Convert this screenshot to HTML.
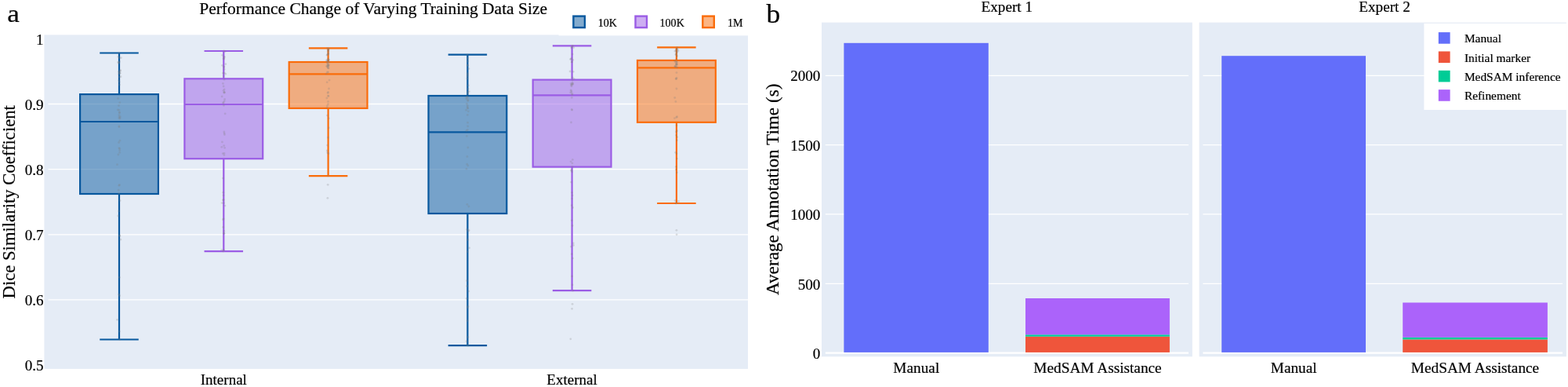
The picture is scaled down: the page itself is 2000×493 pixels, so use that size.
<!DOCTYPE html>
<html lang="en"><head><meta charset="utf-8"><title>Figure</title>
<style>
html,body{margin:0;padding:0;background:#fff;}
body{width:2000px;height:493px;overflow:hidden;}
svg{display:block;}
text{font-family:"Liberation Serif", "Times New Roman", serif;fill:#000;stroke:#000;stroke-width:0.2px;}
</style></head><body>
<svg width="2000" height="493" viewBox="0 0 2000 493">
<rect x="0" y="0" width="2000" height="493" fill="#fff"/>
<rect x="56.4" y="44.4" width="897.60" height="425.50" fill="#E5ECF6"/>
<line x1="61.5" x2="954.0" y1="381.95" y2="381.95" stroke="#fff" stroke-width="1.3"/>
<line x1="61.5" x2="954.0" y1="298.80" y2="298.80" stroke="#fff" stroke-width="1.3"/>
<line x1="61.5" x2="954.0" y1="215.65" y2="215.65" stroke="#fff" stroke-width="1.3"/>
<line x1="61.5" x2="954.0" y1="132.50" y2="132.50" stroke="#fff" stroke-width="1.3"/>
<text transform="translate(55.6,472.1) scale(1.0000,1)" font-size="19.10" text-anchor="end">0.5</text>
<text transform="translate(55.6,388.9) scale(1.0000,1)" font-size="19.10" text-anchor="end">0.6</text>
<text transform="translate(55.6,305.5) scale(1.0000,1)" font-size="19.10" text-anchor="end">0.7</text>
<text transform="translate(55.6,222.6) scale(1.0000,1)" font-size="19.10" text-anchor="end">0.8</text>
<text transform="translate(55.6,139.55) scale(1.0000,1)" font-size="19.10" text-anchor="end">0.9</text>
<text transform="translate(55.6,56.5) scale(1.0000,1)" font-size="19.10" text-anchor="end">1</text>
<g stroke="#08589e" stroke-width="2.2" fill="none">
<line x1="152.0" x2="152.0" y1="67.5" y2="120.1"/><line x1="152.0" x2="152.0" y1="247.0" y2="432.5"/>
<line x1="127.25" x2="176.75" y1="67.5" y2="67.5"/><line x1="127.25" x2="176.75" y1="432.5" y2="432.5"/>
<rect x="102.1" y="120.1" width="99.8" height="126.9" fill="#08589e" fill-opacity="0.5"/>
<line x1="102.1" x2="201.9" y1="155.0" y2="155.0"/>
</g>
<g fill="#7f7f7f" fill-opacity="0.24" stroke="none">
<circle cx="150.6" cy="125.4" r="1.4"/>
<circle cx="151.9" cy="161.7" r="1.4"/>
<circle cx="151.9" cy="188.6" r="1.4"/>
<circle cx="151.7" cy="94.2" r="1.4"/>
<circle cx="153.4" cy="90.3" r="1.4"/>
<circle cx="151.0" cy="72.3" r="1.4"/>
<circle cx="153.3" cy="149.0" r="1.4"/>
<circle cx="150.7" cy="79.2" r="1.4"/>
<circle cx="151.2" cy="242.2" r="1.4"/>
<circle cx="152.6" cy="191.5" r="1.4"/>
<circle cx="153.1" cy="255.6" r="1.4"/>
<circle cx="152.9" cy="300.7" r="1.4"/>
<circle cx="152.3" cy="73.7" r="1.4"/>
<circle cx="152.1" cy="148.6" r="1.4"/>
<circle cx="152.2" cy="98.1" r="1.4"/>
<circle cx="152.6" cy="189.3" r="1.4"/>
<circle cx="151.8" cy="160.8" r="1.4"/>
<circle cx="152.3" cy="78.3" r="1.4"/>
<circle cx="152.6" cy="194.3" r="1.4"/>
<circle cx="152.0" cy="140.5" r="1.4"/>
<circle cx="152.8" cy="130.6" r="1.4"/>
<circle cx="152.6" cy="376.7" r="1.4"/>
<circle cx="154.0" cy="97.7" r="1.4"/>
<circle cx="152.3" cy="235.5" r="1.4"/>
<circle cx="151.6" cy="181.5" r="1.4"/>
<circle cx="151.6" cy="268.9" r="1.4"/>
<circle cx="152.0" cy="146.5" r="1.4"/>
<circle cx="152.9" cy="93.2" r="1.4"/>
<circle cx="151.7" cy="102.6" r="1.4"/>
<circle cx="152.4" cy="353.3" r="1.4"/>
<circle cx="153.8" cy="305.2" r="1.4"/>
<circle cx="149.5" cy="209.7" r="1.4"/>
<circle cx="150.9" cy="197.0" r="1.4"/>
<circle cx="152.2" cy="422.2" r="1.4"/>
<circle cx="152.4" cy="143.3" r="1.4"/>
<circle cx="152.2" cy="104.4" r="1.4"/>
<circle cx="151.6" cy="246.4" r="1.4"/>
<circle cx="152.7" cy="299.8" r="1.4"/>
<circle cx="152.3" cy="143.4" r="1.4"/>
<circle cx="151.5" cy="91.8" r="1.4"/>
<circle cx="154.4" cy="73.7" r="1.4"/>
<circle cx="152.4" cy="107.9" r="1.4"/>
<circle cx="151.4" cy="80.5" r="1.4"/>
<circle cx="151.9" cy="150.5" r="1.4"/>
<circle cx="151.8" cy="91.1" r="1.4"/>
<circle cx="151.9" cy="236.3" r="1.4"/>
<circle cx="149.5" cy="407.3" r="1.4"/>
<circle cx="151.5" cy="134.6" r="1.4"/>
<circle cx="153.0" cy="151.0" r="1.4"/>
<circle cx="150.8" cy="275.0" r="1.4"/>
<circle cx="151.9" cy="79.7" r="1.4"/>
<circle cx="153.0" cy="93.0" r="1.4"/>
<circle cx="152.9" cy="179.2" r="1.4"/>
<circle cx="153.5" cy="89.5" r="1.4"/>
<circle cx="150.3" cy="139.9" r="1.4"/>
<circle cx="151.6" cy="375.1" r="1.4"/>
<circle cx="151.7" cy="67.5" r="1.4"/>
<circle cx="152.6" cy="432.5" r="1.4"/>
</g>
<g stroke="#9b5de5" stroke-width="2.2" fill="none">
<line x1="285.3" x2="285.3" y1="65.0" y2="100.3"/><line x1="285.3" x2="285.3" y1="202.2" y2="320.1"/>
<line x1="260.55" x2="310.05" y1="65.0" y2="65.0"/><line x1="260.55" x2="310.05" y1="320.1" y2="320.1"/>
<rect x="235.4" y="100.3" width="99.8" height="101.89999999999999" fill="#9b5de5" fill-opacity="0.5"/>
<line x1="235.4" x2="335.2" y1="133.0" y2="133.0"/>
</g>
<g fill="#7f7f7f" fill-opacity="0.24" stroke="none">
<circle cx="282.9" cy="318.3" r="1.4"/>
<circle cx="285.6" cy="297.2" r="1.4"/>
<circle cx="284.7" cy="289.4" r="1.4"/>
<circle cx="283.4" cy="83.3" r="1.4"/>
<circle cx="286.0" cy="101.2" r="1.4"/>
<circle cx="285.0" cy="74.9" r="1.4"/>
<circle cx="283.1" cy="122.9" r="1.4"/>
<circle cx="284.4" cy="254.9" r="1.4"/>
<circle cx="285.6" cy="318.7" r="1.4"/>
<circle cx="284.8" cy="245.2" r="1.4"/>
<circle cx="286.1" cy="73.0" r="1.4"/>
<circle cx="286.0" cy="72.2" r="1.4"/>
<circle cx="286.0" cy="195.3" r="1.4"/>
<circle cx="285.6" cy="258.7" r="1.4"/>
<circle cx="286.6" cy="188.3" r="1.4"/>
<circle cx="286.0" cy="88.3" r="1.4"/>
<circle cx="285.8" cy="294.4" r="1.4"/>
<circle cx="283.2" cy="258.6" r="1.4"/>
<circle cx="286.2" cy="92.9" r="1.4"/>
<circle cx="286.6" cy="126.5" r="1.4"/>
<circle cx="285.0" cy="248.9" r="1.4"/>
<circle cx="284.8" cy="131.3" r="1.4"/>
<circle cx="287.2" cy="144.8" r="1.4"/>
<circle cx="283.5" cy="70.3" r="1.4"/>
<circle cx="285.8" cy="297.3" r="1.4"/>
<circle cx="287.7" cy="94.2" r="1.4"/>
<circle cx="284.4" cy="279.7" r="1.4"/>
<circle cx="286.0" cy="118.2" r="1.4"/>
<circle cx="287.2" cy="65.5" r="1.4"/>
<circle cx="285.2" cy="278.8" r="1.4"/>
<circle cx="285.9" cy="197.6" r="1.4"/>
<circle cx="286.2" cy="128.8" r="1.4"/>
<circle cx="284.4" cy="227.1" r="1.4"/>
<circle cx="285.2" cy="109.9" r="1.4"/>
<circle cx="285.6" cy="85.7" r="1.4"/>
<circle cx="286.1" cy="114.0" r="1.4"/>
<circle cx="285.3" cy="97.1" r="1.4"/>
<circle cx="285.1" cy="115.3" r="1.4"/>
<circle cx="284.3" cy="195.6" r="1.4"/>
<circle cx="284.9" cy="130.3" r="1.4"/>
<circle cx="286.2" cy="169.8" r="1.4"/>
<circle cx="285.4" cy="134.3" r="1.4"/>
<circle cx="284.4" cy="106.3" r="1.4"/>
<circle cx="284.5" cy="93.2" r="1.4"/>
<circle cx="287.8" cy="81.7" r="1.4"/>
<circle cx="286.4" cy="171.5" r="1.4"/>
<circle cx="285.9" cy="117.3" r="1.4"/>
<circle cx="282.8" cy="187.3" r="1.4"/>
<circle cx="285.9" cy="84.8" r="1.4"/>
<circle cx="285.8" cy="74.8" r="1.4"/>
<circle cx="287.0" cy="262.1" r="1.4"/>
<circle cx="285.7" cy="185.6" r="1.4"/>
<circle cx="285.2" cy="254.5" r="1.4"/>
<circle cx="285.8" cy="168.0" r="1.4"/>
<circle cx="283.4" cy="180.9" r="1.4"/>
<circle cx="286.3" cy="117.7" r="1.4"/>
<circle cx="285.6" cy="65.0" r="1.4"/>
<circle cx="284.6" cy="320.1" r="1.4"/>
</g>
<g stroke="#fa6c0a" stroke-width="2.2" fill="none">
<line x1="418.6" x2="418.6" y1="61.4" y2="79.0"/><line x1="418.6" x2="418.6" y1="137.9" y2="224.1"/>
<line x1="393.85" x2="443.35" y1="61.4" y2="61.4"/><line x1="393.85" x2="443.35" y1="224.1" y2="224.1"/>
<rect x="368.70000000000005" y="79.0" width="99.8" height="58.900000000000006" fill="#fa6c0a" fill-opacity="0.5"/>
<line x1="368.70000000000005" x2="468.5" y1="94.4" y2="94.4"/>
</g>
<g fill="#7f7f7f" fill-opacity="0.24" stroke="none">
<circle cx="418.4" cy="77.6" r="1.4"/>
<circle cx="416.8" cy="124.9" r="1.4"/>
<circle cx="419.4" cy="62.4" r="1.4"/>
<circle cx="419.5" cy="112.9" r="1.4"/>
<circle cx="416.7" cy="77.9" r="1.4"/>
<circle cx="418.5" cy="129.3" r="1.4"/>
<circle cx="419.2" cy="76.5" r="1.4"/>
<circle cx="416.8" cy="76.6" r="1.4"/>
<circle cx="416.8" cy="84.2" r="1.4"/>
<circle cx="417.5" cy="134.7" r="1.4"/>
<circle cx="418.0" cy="81.0" r="1.4"/>
<circle cx="417.2" cy="104.8" r="1.4"/>
<circle cx="418.6" cy="64.2" r="1.4"/>
<circle cx="418.8" cy="65.0" r="1.4"/>
<circle cx="419.2" cy="83.7" r="1.4"/>
<circle cx="419.3" cy="162.9" r="1.4"/>
<circle cx="420.1" cy="102.1" r="1.4"/>
<circle cx="419.8" cy="79.3" r="1.4"/>
<circle cx="417.3" cy="79.2" r="1.4"/>
<circle cx="418.1" cy="118.4" r="1.4"/>
<circle cx="417.5" cy="69.8" r="1.4"/>
<circle cx="417.5" cy="147.1" r="1.4"/>
<circle cx="418.5" cy="175.2" r="1.4"/>
<circle cx="418.6" cy="91.9" r="1.4"/>
<circle cx="419.1" cy="86.8" r="1.4"/>
<circle cx="417.0" cy="137.1" r="1.4"/>
<circle cx="417.4" cy="91.8" r="1.4"/>
<circle cx="418.6" cy="122.1" r="1.4"/>
<circle cx="418.4" cy="84.4" r="1.4"/>
<circle cx="418.3" cy="63.7" r="1.4"/>
<circle cx="418.5" cy="74.4" r="1.4"/>
<circle cx="417.8" cy="81.5" r="1.4"/>
<circle cx="419.3" cy="76.2" r="1.4"/>
<circle cx="419.0" cy="195.7" r="1.4"/>
<circle cx="418.5" cy="82.7" r="1.4"/>
<circle cx="417.9" cy="86.1" r="1.4"/>
<circle cx="418.4" cy="69.2" r="1.4"/>
<circle cx="416.1" cy="93.8" r="1.4"/>
<circle cx="417.6" cy="185.1" r="1.4"/>
<circle cx="418.6" cy="78.4" r="1.4"/>
<circle cx="417.1" cy="84.5" r="1.4"/>
<circle cx="418.8" cy="68.1" r="1.4"/>
<circle cx="418.7" cy="86.7" r="1.4"/>
<circle cx="417.2" cy="70.3" r="1.4"/>
<circle cx="418.3" cy="66.0" r="1.4"/>
<circle cx="418.3" cy="68.4" r="1.4"/>
<circle cx="419.1" cy="61.8" r="1.4"/>
<circle cx="419.2" cy="82.6" r="1.4"/>
<circle cx="418.6" cy="117.4" r="1.4"/>
<circle cx="417.7" cy="194.6" r="1.4"/>
<circle cx="418.5" cy="132.6" r="1.4"/>
<circle cx="418.5" cy="84.0" r="1.4"/>
<circle cx="419.3" cy="150.8" r="1.4"/>
<circle cx="418.9" cy="122.4" r="1.4"/>
<circle cx="417.9" cy="76.1" r="1.4"/>
<circle cx="417.2" cy="192.0" r="1.4"/>
<circle cx="418.2" cy="235.3" r="1.4"/>
<circle cx="417.9" cy="252.3" r="1.4"/>
<circle cx="417.5" cy="61.4" r="1.4"/>
<circle cx="418.5" cy="224.1" r="1.4"/>
</g>
<g stroke="#08589e" stroke-width="2.2" fill="none">
<line x1="596.4" x2="596.4" y1="69.6" y2="122.0"/><line x1="596.4" x2="596.4" y1="272.0" y2="440.2"/>
<line x1="571.65" x2="621.15" y1="69.6" y2="69.6"/><line x1="571.65" x2="621.15" y1="440.2" y2="440.2"/>
<rect x="546.5" y="122.0" width="99.8" height="150.0" fill="#08589e" fill-opacity="0.5"/>
<line x1="546.5" x2="646.3" y1="168.3" y2="168.3"/>
</g>
<g fill="#7f7f7f" fill-opacity="0.24" stroke="none">
<circle cx="597.1" cy="127.5" r="1.4"/>
<circle cx="596.7" cy="305.5" r="1.4"/>
<circle cx="596.9" cy="429.5" r="1.4"/>
<circle cx="596.3" cy="93.7" r="1.4"/>
<circle cx="595.0" cy="434.8" r="1.4"/>
<circle cx="596.4" cy="134.4" r="1.4"/>
<circle cx="596.9" cy="119.1" r="1.4"/>
<circle cx="595.9" cy="100.1" r="1.4"/>
<circle cx="596.3" cy="97.1" r="1.4"/>
<circle cx="597.1" cy="294.3" r="1.4"/>
<circle cx="595.5" cy="357.6" r="1.4"/>
<circle cx="597.0" cy="390.3" r="1.4"/>
<circle cx="598.3" cy="116.6" r="1.4"/>
<circle cx="595.8" cy="123.1" r="1.4"/>
<circle cx="596.5" cy="95.4" r="1.4"/>
<circle cx="596.2" cy="136.0" r="1.4"/>
<circle cx="597.9" cy="87.6" r="1.4"/>
<circle cx="596.7" cy="160.9" r="1.4"/>
<circle cx="597.3" cy="108.9" r="1.4"/>
<circle cx="595.7" cy="292.2" r="1.4"/>
<circle cx="596.4" cy="391.9" r="1.4"/>
<circle cx="596.4" cy="320.7" r="1.4"/>
<circle cx="594.6" cy="140.2" r="1.4"/>
<circle cx="597.8" cy="371.1" r="1.4"/>
<circle cx="597.3" cy="141.8" r="1.4"/>
<circle cx="594.7" cy="124.2" r="1.4"/>
<circle cx="597.1" cy="113.3" r="1.4"/>
<circle cx="596.3" cy="165.3" r="1.4"/>
<circle cx="596.8" cy="83.5" r="1.4"/>
<circle cx="596.8" cy="188.0" r="1.4"/>
<circle cx="594.9" cy="166.3" r="1.4"/>
<circle cx="596.2" cy="408.6" r="1.4"/>
<circle cx="597.9" cy="263.0" r="1.4"/>
<circle cx="595.8" cy="364.4" r="1.4"/>
<circle cx="595.4" cy="173.4" r="1.4"/>
<circle cx="595.0" cy="215.1" r="1.4"/>
<circle cx="595.2" cy="380.4" r="1.4"/>
<circle cx="596.7" cy="124.3" r="1.4"/>
<circle cx="598.1" cy="293.4" r="1.4"/>
<circle cx="596.8" cy="137.9" r="1.4"/>
<circle cx="596.6" cy="156.2" r="1.4"/>
<circle cx="598.6" cy="315.8" r="1.4"/>
<circle cx="595.9" cy="199.5" r="1.4"/>
<circle cx="595.7" cy="209.2" r="1.4"/>
<circle cx="596.9" cy="78.1" r="1.4"/>
<circle cx="596.9" cy="117.1" r="1.4"/>
<circle cx="595.4" cy="132.2" r="1.4"/>
<circle cx="595.2" cy="439.6" r="1.4"/>
<circle cx="596.7" cy="128.5" r="1.4"/>
<circle cx="596.6" cy="74.4" r="1.4"/>
<circle cx="595.1" cy="126.2" r="1.4"/>
<circle cx="596.2" cy="83.1" r="1.4"/>
<circle cx="595.9" cy="260.3" r="1.4"/>
<circle cx="596.9" cy="211.1" r="1.4"/>
<circle cx="596.3" cy="146.3" r="1.4"/>
<circle cx="596.3" cy="137.7" r="1.4"/>
<circle cx="596.0" cy="69.6" r="1.4"/>
<circle cx="597.5" cy="440.2" r="1.4"/>
</g>
<g stroke="#9b5de5" stroke-width="2.2" fill="none">
<line x1="729.6" x2="729.6" y1="58.4" y2="101.6"/><line x1="729.6" x2="729.6" y1="212.6" y2="370.2"/>
<line x1="704.85" x2="754.35" y1="58.4" y2="58.4"/><line x1="704.85" x2="754.35" y1="370.2" y2="370.2"/>
<rect x="679.7" y="101.6" width="99.8" height="111.0" fill="#9b5de5" fill-opacity="0.5"/>
<line x1="679.7" x2="779.5" y1="121.4" y2="121.4"/>
</g>
<g fill="#7f7f7f" fill-opacity="0.24" stroke="none">
<circle cx="728.5" cy="314.2" r="1.4"/>
<circle cx="730.1" cy="287.5" r="1.4"/>
<circle cx="730.2" cy="69.1" r="1.4"/>
<circle cx="729.3" cy="323.7" r="1.4"/>
<circle cx="730.1" cy="102.0" r="1.4"/>
<circle cx="728.1" cy="115.0" r="1.4"/>
<circle cx="730.4" cy="106.7" r="1.4"/>
<circle cx="728.1" cy="205.8" r="1.4"/>
<circle cx="728.9" cy="59.9" r="1.4"/>
<circle cx="729.0" cy="109.9" r="1.4"/>
<circle cx="729.2" cy="139.5" r="1.4"/>
<circle cx="730.5" cy="329.1" r="1.4"/>
<circle cx="729.7" cy="140.1" r="1.4"/>
<circle cx="729.2" cy="261.7" r="1.4"/>
<circle cx="730.1" cy="249.0" r="1.4"/>
<circle cx="731.2" cy="91.3" r="1.4"/>
<circle cx="729.6" cy="120.4" r="1.4"/>
<circle cx="730.0" cy="105.3" r="1.4"/>
<circle cx="730.8" cy="76.4" r="1.4"/>
<circle cx="729.9" cy="207.9" r="1.4"/>
<circle cx="728.3" cy="75.4" r="1.4"/>
<circle cx="732.1" cy="100.5" r="1.4"/>
<circle cx="731.8" cy="60.6" r="1.4"/>
<circle cx="727.6" cy="75.4" r="1.4"/>
<circle cx="729.6" cy="351.9" r="1.4"/>
<circle cx="730.0" cy="212.4" r="1.4"/>
<circle cx="730.6" cy="264.5" r="1.4"/>
<circle cx="730.3" cy="98.8" r="1.4"/>
<circle cx="729.3" cy="124.3" r="1.4"/>
<circle cx="728.5" cy="155.9" r="1.4"/>
<circle cx="729.7" cy="108.2" r="1.4"/>
<circle cx="730.6" cy="58.5" r="1.4"/>
<circle cx="728.5" cy="108.6" r="1.4"/>
<circle cx="728.6" cy="232.1" r="1.4"/>
<circle cx="729.6" cy="245.3" r="1.4"/>
<circle cx="727.7" cy="117.9" r="1.4"/>
<circle cx="729.3" cy="280.8" r="1.4"/>
<circle cx="729.2" cy="78.9" r="1.4"/>
<circle cx="730.1" cy="119.8" r="1.4"/>
<circle cx="728.9" cy="74.1" r="1.4"/>
<circle cx="728.7" cy="217.4" r="1.4"/>
<circle cx="729.2" cy="117.7" r="1.4"/>
<circle cx="729.6" cy="219.0" r="1.4"/>
<circle cx="728.9" cy="61.1" r="1.4"/>
<circle cx="729.6" cy="253.1" r="1.4"/>
<circle cx="730.4" cy="203.3" r="1.4"/>
<circle cx="730.8" cy="107.0" r="1.4"/>
<circle cx="731.3" cy="309.8" r="1.4"/>
<circle cx="728.8" cy="115.8" r="1.4"/>
<circle cx="729.2" cy="107.1" r="1.4"/>
<circle cx="727.1" cy="91.0" r="1.4"/>
<circle cx="731.5" cy="312.5" r="1.4"/>
<circle cx="728.9" cy="216.4" r="1.4"/>
<circle cx="729.6" cy="78.9" r="1.4"/>
<circle cx="730.1" cy="362.9" r="1.4"/>
<circle cx="728.2" cy="106.6" r="1.4"/>
<circle cx="730.1" cy="387.3" r="1.4"/>
<circle cx="729.6" cy="393.3" r="1.4"/>
<circle cx="727.8" cy="431.8" r="1.4"/>
<circle cx="729.9" cy="58.4" r="1.4"/>
<circle cx="730.8" cy="370.2" r="1.4"/>
</g>
<g stroke="#fa6c0a" stroke-width="2.2" fill="none">
<line x1="862.9" x2="862.9" y1="60.3" y2="76.9"/><line x1="862.9" x2="862.9" y1="155.8" y2="259.0"/>
<line x1="838.15" x2="887.65" y1="60.3" y2="60.3"/><line x1="838.15" x2="887.65" y1="259.0" y2="259.0"/>
<rect x="813.0" y="76.9" width="99.8" height="78.9" fill="#fa6c0a" fill-opacity="0.5"/>
<line x1="813.0" x2="912.8" y1="86.3" y2="86.3"/>
</g>
<g fill="#7f7f7f" fill-opacity="0.24" stroke="none">
<circle cx="861.0" cy="65.2" r="1.4"/>
<circle cx="862.3" cy="63.4" r="1.4"/>
<circle cx="862.3" cy="216.0" r="1.4"/>
<circle cx="861.7" cy="194.2" r="1.4"/>
<circle cx="863.5" cy="202.1" r="1.4"/>
<circle cx="861.6" cy="84.2" r="1.4"/>
<circle cx="863.6" cy="166.7" r="1.4"/>
<circle cx="861.9" cy="129.4" r="1.4"/>
<circle cx="863.3" cy="66.4" r="1.4"/>
<circle cx="864.3" cy="63.7" r="1.4"/>
<circle cx="863.1" cy="82.5" r="1.4"/>
<circle cx="862.2" cy="100.4" r="1.4"/>
<circle cx="862.9" cy="65.7" r="1.4"/>
<circle cx="863.0" cy="99.2" r="1.4"/>
<circle cx="861.2" cy="78.8" r="1.4"/>
<circle cx="862.3" cy="212.4" r="1.4"/>
<circle cx="863.1" cy="62.0" r="1.4"/>
<circle cx="862.4" cy="82.1" r="1.4"/>
<circle cx="863.0" cy="92.6" r="1.4"/>
<circle cx="863.6" cy="71.8" r="1.4"/>
<circle cx="863.7" cy="79.6" r="1.4"/>
<circle cx="863.8" cy="85.9" r="1.4"/>
<circle cx="863.5" cy="82.2" r="1.4"/>
<circle cx="862.6" cy="80.8" r="1.4"/>
<circle cx="862.9" cy="258.7" r="1.4"/>
<circle cx="862.6" cy="78.8" r="1.4"/>
<circle cx="862.6" cy="100.5" r="1.4"/>
<circle cx="862.7" cy="75.3" r="1.4"/>
<circle cx="861.2" cy="84.6" r="1.4"/>
<circle cx="862.6" cy="85.2" r="1.4"/>
<circle cx="862.9" cy="78.4" r="1.4"/>
<circle cx="861.9" cy="69.5" r="1.4"/>
<circle cx="862.9" cy="149.5" r="1.4"/>
<circle cx="863.4" cy="70.6" r="1.4"/>
<circle cx="862.7" cy="81.6" r="1.4"/>
<circle cx="865.0" cy="65.0" r="1.4"/>
<circle cx="860.4" cy="150.6" r="1.4"/>
<circle cx="862.7" cy="68.4" r="1.4"/>
<circle cx="861.1" cy="255.6" r="1.4"/>
<circle cx="863.9" cy="62.4" r="1.4"/>
<circle cx="865.4" cy="256.5" r="1.4"/>
<circle cx="860.4" cy="77.4" r="1.4"/>
<circle cx="863.0" cy="195.8" r="1.4"/>
<circle cx="863.4" cy="219.8" r="1.4"/>
<circle cx="862.6" cy="172.3" r="1.4"/>
<circle cx="863.5" cy="178.7" r="1.4"/>
<circle cx="860.7" cy="84.9" r="1.4"/>
<circle cx="863.8" cy="174.7" r="1.4"/>
<circle cx="863.3" cy="66.9" r="1.4"/>
<circle cx="862.9" cy="113.0" r="1.4"/>
<circle cx="862.3" cy="64.4" r="1.4"/>
<circle cx="863.5" cy="148.7" r="1.4"/>
<circle cx="862.4" cy="69.6" r="1.4"/>
<circle cx="863.1" cy="159.7" r="1.4"/>
<circle cx="862.4" cy="167.9" r="1.4"/>
<circle cx="860.7" cy="124.5" r="1.4"/>
<circle cx="862.9" cy="293.3" r="1.4"/>
<circle cx="863.1" cy="298.8" r="1.4"/>
<circle cx="863.7" cy="60.3" r="1.4"/>
<circle cx="862.0" cy="259.0" r="1.4"/>
</g>
<text transform="translate(285.3,490.4) scale(1.0000,1)" font-size="19.00" text-anchor="middle">Internal</text>
<text transform="translate(729.5,490.4) scale(1.0000,1)" font-size="19.00" text-anchor="middle">External</text>
<text transform="translate(254.2,18.3) scale(1.0000,1)" font-size="21.50" text-anchor="start">Performance Change of Varying Training Data Size</text>
<text transform="translate(18.9,257.3) rotate(-90) scale(1.0000,1)" font-size="22.68" text-anchor="middle">Dice Similarity Coefficient</text>
<text transform="translate(9.2,28.2) scale(1.085,1)" font-size="32.4">a</text>
<rect x="712.6" y="12" width="241.4" height="33.3" fill="#fff"/>
<rect x="731.4" y="20.6" width="14.5" height="14.5" fill="#08589e" fill-opacity="0.5" stroke="#08589e" stroke-width="2.4"/>
<text transform="translate(762.7,34) scale(1.0000,1)" font-size="14.10" text-anchor="start">10K</text>
<rect x="810.5" y="20.6" width="14.5" height="14.5" fill="#9b5de5" fill-opacity="0.5" stroke="#9b5de5" stroke-width="2.4"/>
<text transform="translate(841.5,34) scale(1.0000,1)" font-size="14.10" text-anchor="start">100K</text>
<rect x="896.3" y="20.6" width="14.5" height="14.5" fill="#fa6c0a" fill-opacity="0.5" stroke="#fa6c0a" stroke-width="2.4"/>
<text transform="translate(927.9000000000001,34) scale(1.0000,1)" font-size="14.10" text-anchor="start">1M</text>
<text transform="translate(977.4,28.6) scale(1.04,1)" font-size="34.2">b</text>
<text transform="translate(993.0,241.3) rotate(-90) scale(1.0000,1)" font-size="23.20" text-anchor="middle">Average Annotation Time (s)</text>
<rect x="1048.0" y="28.6" width="472.80" height="425.70" fill="#E5ECF6"/>
<line x1="1052.80" x2="1516.00" y1="449.70" y2="449.70" stroke="#fff" stroke-width="2.3"/>
<line x1="1052.80" x2="1516.00" y1="361.40" y2="361.40" stroke="#fff" stroke-width="1.3"/>
<line x1="1052.80" x2="1516.00" y1="272.90" y2="272.90" stroke="#fff" stroke-width="1.3"/>
<line x1="1052.80" x2="1516.00" y1="184.60" y2="184.60" stroke="#fff" stroke-width="1.3"/>
<line x1="1052.80" x2="1516.00" y1="96.30" y2="96.30" stroke="#fff" stroke-width="1.3"/>
<rect x="1076.4" y="54.80" width="184.40" height="394.10" fill="#636EFA"/>
<rect x="1308.0" y="428.70" width="183.90" height="20.20" fill="#EF553B"/>
<rect x="1308.0" y="426.30" width="183.90" height="2.40" fill="#00CC96"/>
<rect x="1308.0" y="380.00" width="183.90" height="46.30" fill="#AB63FA"/>
<text transform="translate(1284.3,14.8) scale(1.0000,1)" font-size="19.20" text-anchor="middle">Expert 1</text>
<text transform="translate(1168.8,475.3) scale(1.0000,1)" font-size="19.30" text-anchor="middle">Manual</text>
<text transform="translate(1400.0,475.3) scale(1.0000,1)" font-size="19.30" text-anchor="middle">MedSAM Assistance</text>
<rect x="1529.6" y="28.6" width="468.30" height="425.70" fill="#E5ECF6"/>
<line x1="1534.40" x2="1993.10" y1="449.70" y2="449.70" stroke="#fff" stroke-width="2.3"/>
<line x1="1534.40" x2="1993.10" y1="361.40" y2="361.40" stroke="#fff" stroke-width="1.3"/>
<line x1="1534.40" x2="1993.10" y1="272.90" y2="272.90" stroke="#fff" stroke-width="1.3"/>
<line x1="1534.40" x2="1993.10" y1="184.60" y2="184.60" stroke="#fff" stroke-width="1.3"/>
<line x1="1534.40" x2="1993.10" y1="96.30" y2="96.30" stroke="#fff" stroke-width="1.3"/>
<rect x="1558.2" y="71.20" width="183.80" height="377.70" fill="#636EFA"/>
<rect x="1789.2" y="432.40" width="184.70" height="16.50" fill="#EF553B"/>
<rect x="1789.2" y="429.80" width="184.70" height="2.60" fill="#00CC96"/>
<rect x="1789.2" y="385.50" width="184.70" height="44.30" fill="#AB63FA"/>
<text transform="translate(1766.0,14.8) scale(1.0000,1)" font-size="19.20" text-anchor="middle">Expert 2</text>
<text transform="translate(1650.2,475.3) scale(1.0000,1)" font-size="19.30" text-anchor="middle">Manual</text>
<text transform="translate(1881.5,475.3) scale(1.0000,1)" font-size="19.30" text-anchor="middle">MedSAM Assistance</text>
<text transform="translate(1046.4,456.8) scale(1.0000,1)" font-size="19.10" text-anchor="end">0</text>
<text transform="translate(1046.4,368.5) scale(1.0000,1)" font-size="19.10" text-anchor="end">500</text>
<text transform="translate(1046.4,280.0) scale(1.0000,1)" font-size="19.10" text-anchor="end">1000</text>
<text transform="translate(1046.4,191.7) scale(1.0000,1)" font-size="19.10" text-anchor="end">1500</text>
<text transform="translate(1046.4,103.4) scale(1.0000,1)" font-size="19.10" text-anchor="end">2000</text>
<rect x="1816.4" y="29.8" width="181.50" height="110.20" fill="#fff"/>
<rect x="1834.8" y="41.10" width="14.8" height="14.6" fill="#636EFA"/>
<text transform="translate(1867.9,54.3) scale(1.0000,1)" font-size="15.40" text-anchor="start">Manual</text>
<rect x="1834.8" y="65.45" width="14.8" height="14.6" fill="#EF553B"/>
<text transform="translate(1867.9,78.65) scale(1.0000,1)" font-size="15.40" text-anchor="start">Initial marker</text>
<rect x="1834.8" y="89.80" width="14.8" height="14.6" fill="#00CC96"/>
<text transform="translate(1867.9,103.0) scale(1.0000,1)" font-size="15.40" text-anchor="start">MedSAM inference</text>
<rect x="1834.8" y="114.15" width="14.8" height="14.6" fill="#AB63FA"/>
<text transform="translate(1867.9,127.35) scale(1.0000,1)" font-size="15.40" text-anchor="start">Refinement</text>
</svg></body></html>
